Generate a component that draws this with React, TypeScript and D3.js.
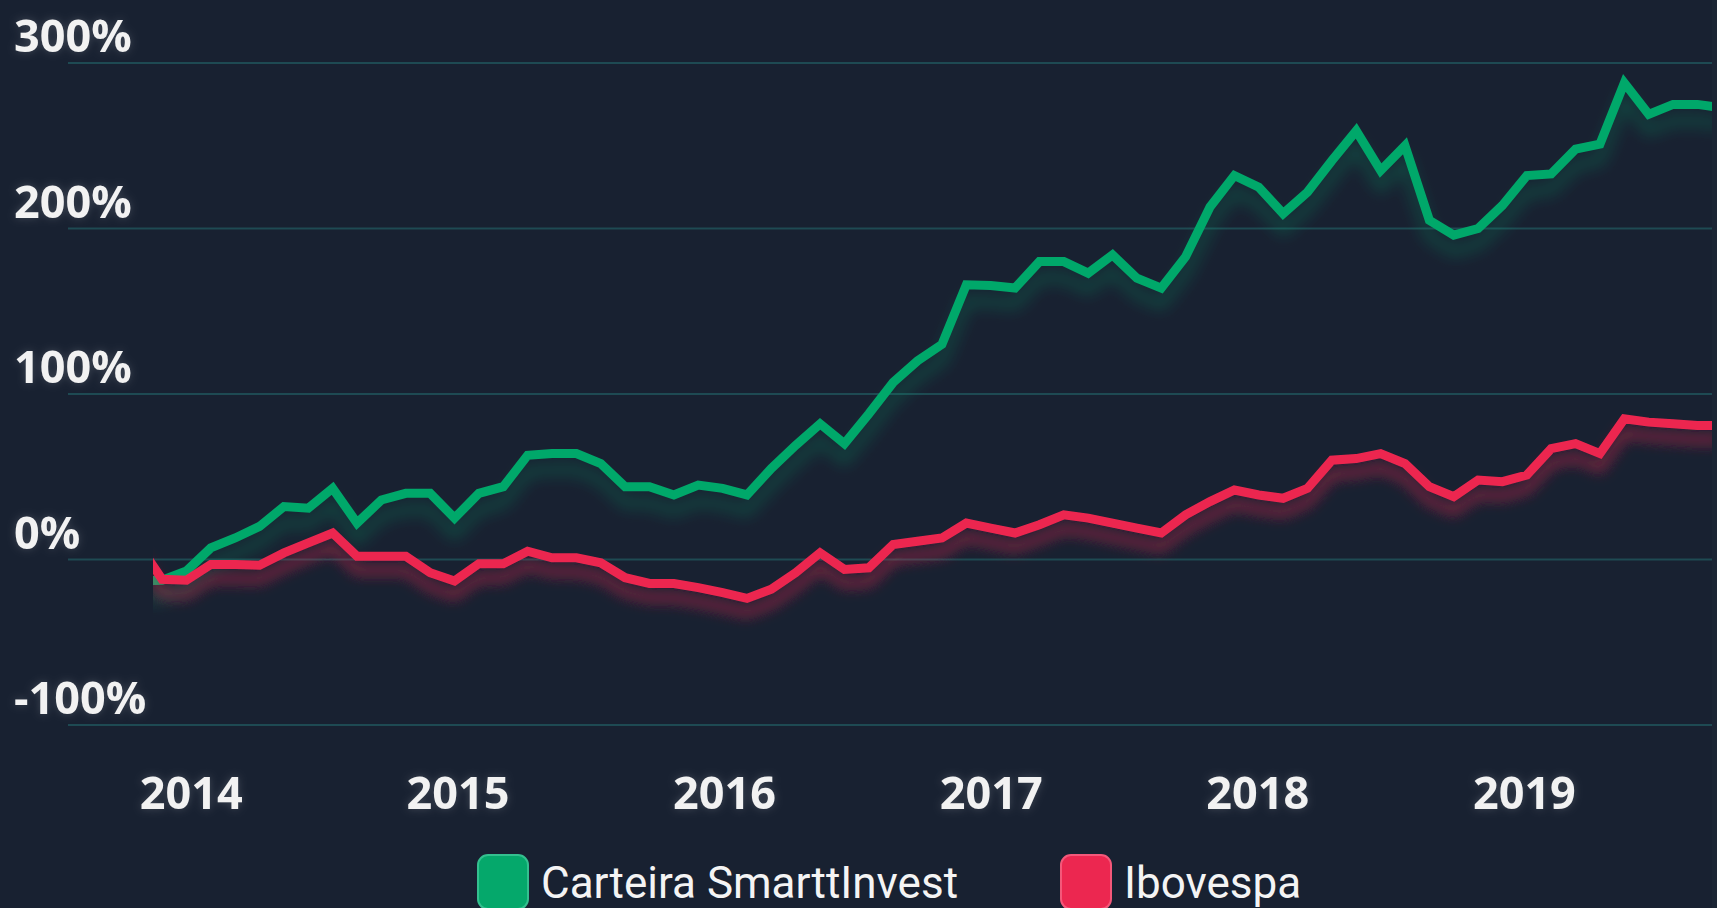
import React from 'react';
import * as d3 from 'd3';

// Cumulative return (%) per period
const carteira = [
  -13, -12.5, -7, 7, 13, 20, 32, 31, 43, 22, 36, 40, 40, 25, 40, 44, 63, 64, 64, 58,
  44, 44, 39, 45, 43, 39, 55, 69, 82, 70, 88, 107, 120, 130, 166, 165.5, 164, 180, 180, 173,
  184, 170, 164, 183, 213, 232, 225, 209, 222, 241, 259, 235, 250, 205, 196, 200, 214, 232, 233, 248,
  251, 288, 269, 275, 275, 273,
];
const ibovespa = [
  10, -12, -12.5, -3, -3, -3.5, 4, 10, 16, 2, 2, 2, -8, -13, -2.5, -2.5, 5, 1, 1, -2,
  -11, -14.5, -14.5, -17, -20, -23.5, -18, -8, 4, -6, -5, 9, 11, 13, 22, 19, 16, 21, 27, 25,
  22, 19, 16, 27, 35, 42, 39, 37, 43, 60, 61, 64, 58, 44, 38, 48, 47, 51, 67, 70,
  64, 85, 83, 82, 81, 81,
];
const yTicks = [-100, 0, 100, 200, 300];
const yearLabels = ['2014', '2015', '2016', '2017', '2018', '2019'];
const yearAt = [2.2, 13.14, 24.08, 35.02, 45.96, 56.9]; // position in period index units
const seriesNames = ['Carteira SmarttInvest', 'Ibovespa'];
const seriesColors = ['#05a86b', '#ec2750'];
const seriesEdge = ['#34c08f', '#f4587a'];

const W = 1717;
const H = 908;
const plotLeft = 153;
const plotRight = 1712;

export default function App() {
  const x = d3.scaleLinear().domain([0, carteira.length - 1]).range([137.7, 1721.8]);
  const y = d3.scaleLinear().domain([-100, 300]).range([725, 63]);
  const line = d3
    .line<number>()
    .x((_, i) => x(i))
    .y((d) => y(d));

  const series = [carteira, ibovespa];
  const legendX = [478, 1061];

  return (
    <svg
      width={W}
      height={H}
      viewBox={`0 0 ${W} ${H}`}
      style={{ position: 'fixed', left: 0, top: 0, display: 'block' }}
    >
      <defs>
        <clipPath id="plotClip">
          <rect x={plotLeft} y={0} width={plotRight - plotLeft} height={H} />
        </clipPath>
        {seriesColors.map((c, k) => (
          <filter key={k} id={`shadow${k}`} x="-5%" y="-30%" width="110%" height="180%">
            <feGaussianBlur in="SourceGraphic" stdDeviation={k === 1 ? 7 : 8} result="b" />
            <feOffset in="b" dy={k === 1 ? 14 : 16} result="o" />
            <feComponentTransfer in="o" result="f">
              <feFuncA type="linear" slope={k === 1 ? 0.5 : 0.32} />
            </feComponentTransfer>
            <feMerge>
              <feMergeNode in="f" />
              <feMergeNode in="SourceGraphic" />
            </feMerge>
          </filter>
        ))}
        <filter id="glow" x="-20%" y="-40%" width="140%" height="180%">
          <feGaussianBlur in="SourceAlpha" stdDeviation="4" result="b" />
          <feFlood floodColor="#ffffff" floodOpacity="0.18" />
          <feComposite in2="b" operator="in" result="g" />
          <feMerge>
            <feMergeNode in="g" />
            <feMergeNode in="SourceGraphic" />
          </feMerge>
        </filter>
      </defs>

      <rect x={0} y={0} width={W} height={H} fill="#182131" />
      <rect x={plotRight} y={0} width={W - plotRight} height={H} fill="#1b2534" />

      {/* grid lines */}
      {yTicks.map((t) => (
        <line
          key={t}
          x1={68}
          x2={plotRight}
          y1={y(t)}
          y2={y(t)}
          stroke="#1e4a53"
          strokeWidth={2}
        />
      ))}

      {/* y labels */}
      <g filter="url(#glow)">
        {yTicks.map((t) => (
          <text
            key={t}
            x={14}
            y={y(t) - 11}
            fill="#f2f2f2"
            fontFamily="'Open Sans', sans-serif"
            fontWeight={700}
            fontSize={45}
          >
            {`${t}%`}
          </text>
        ))}
      </g>

      {/* lines */}
      <g clipPath="url(#plotClip)">
        {series.map((s, k) => (
          <path
            key={k}
            d={line(s) || ''}
            fill="none"
            stroke={seriesColors[k]}
            strokeWidth={9}
            strokeLinejoin="miter"
            strokeMiterlimit={3}
            filter={`url(#shadow${k})`}
          />
        ))}
      </g>

      {/* x labels */}
      <g filter="url(#glow)">
        {yearLabels.map((lab, i) => (
          <text
            key={lab}
            x={x(yearAt[i])}
            y={809}
            textAnchor="middle"
            fill="#f2f2f2"
            fontFamily="'Open Sans', sans-serif"
            fontWeight={700}
            fontSize={45}
          >
            {lab}
          </text>
        ))}
      </g>

      {/* legend */}
      {seriesNames.map((name, k) => (
        <g key={name}>
          <rect
            x={legendX[k]}
            y={855}
            width={50}
            height={54}
            rx={10}
            fill={seriesColors[k]}
            stroke={seriesEdge[k]}
            strokeWidth={2}
          />
          <text
            x={legendX[k] + 63}
            y={898}
            fill="#f4f4f4"
            fontFamily="Roboto, sans-serif"
            fontWeight={400}
            fontSize={44}
          >
            {name}
          </text>
        </g>
      ))}
    </svg>
  );
}
